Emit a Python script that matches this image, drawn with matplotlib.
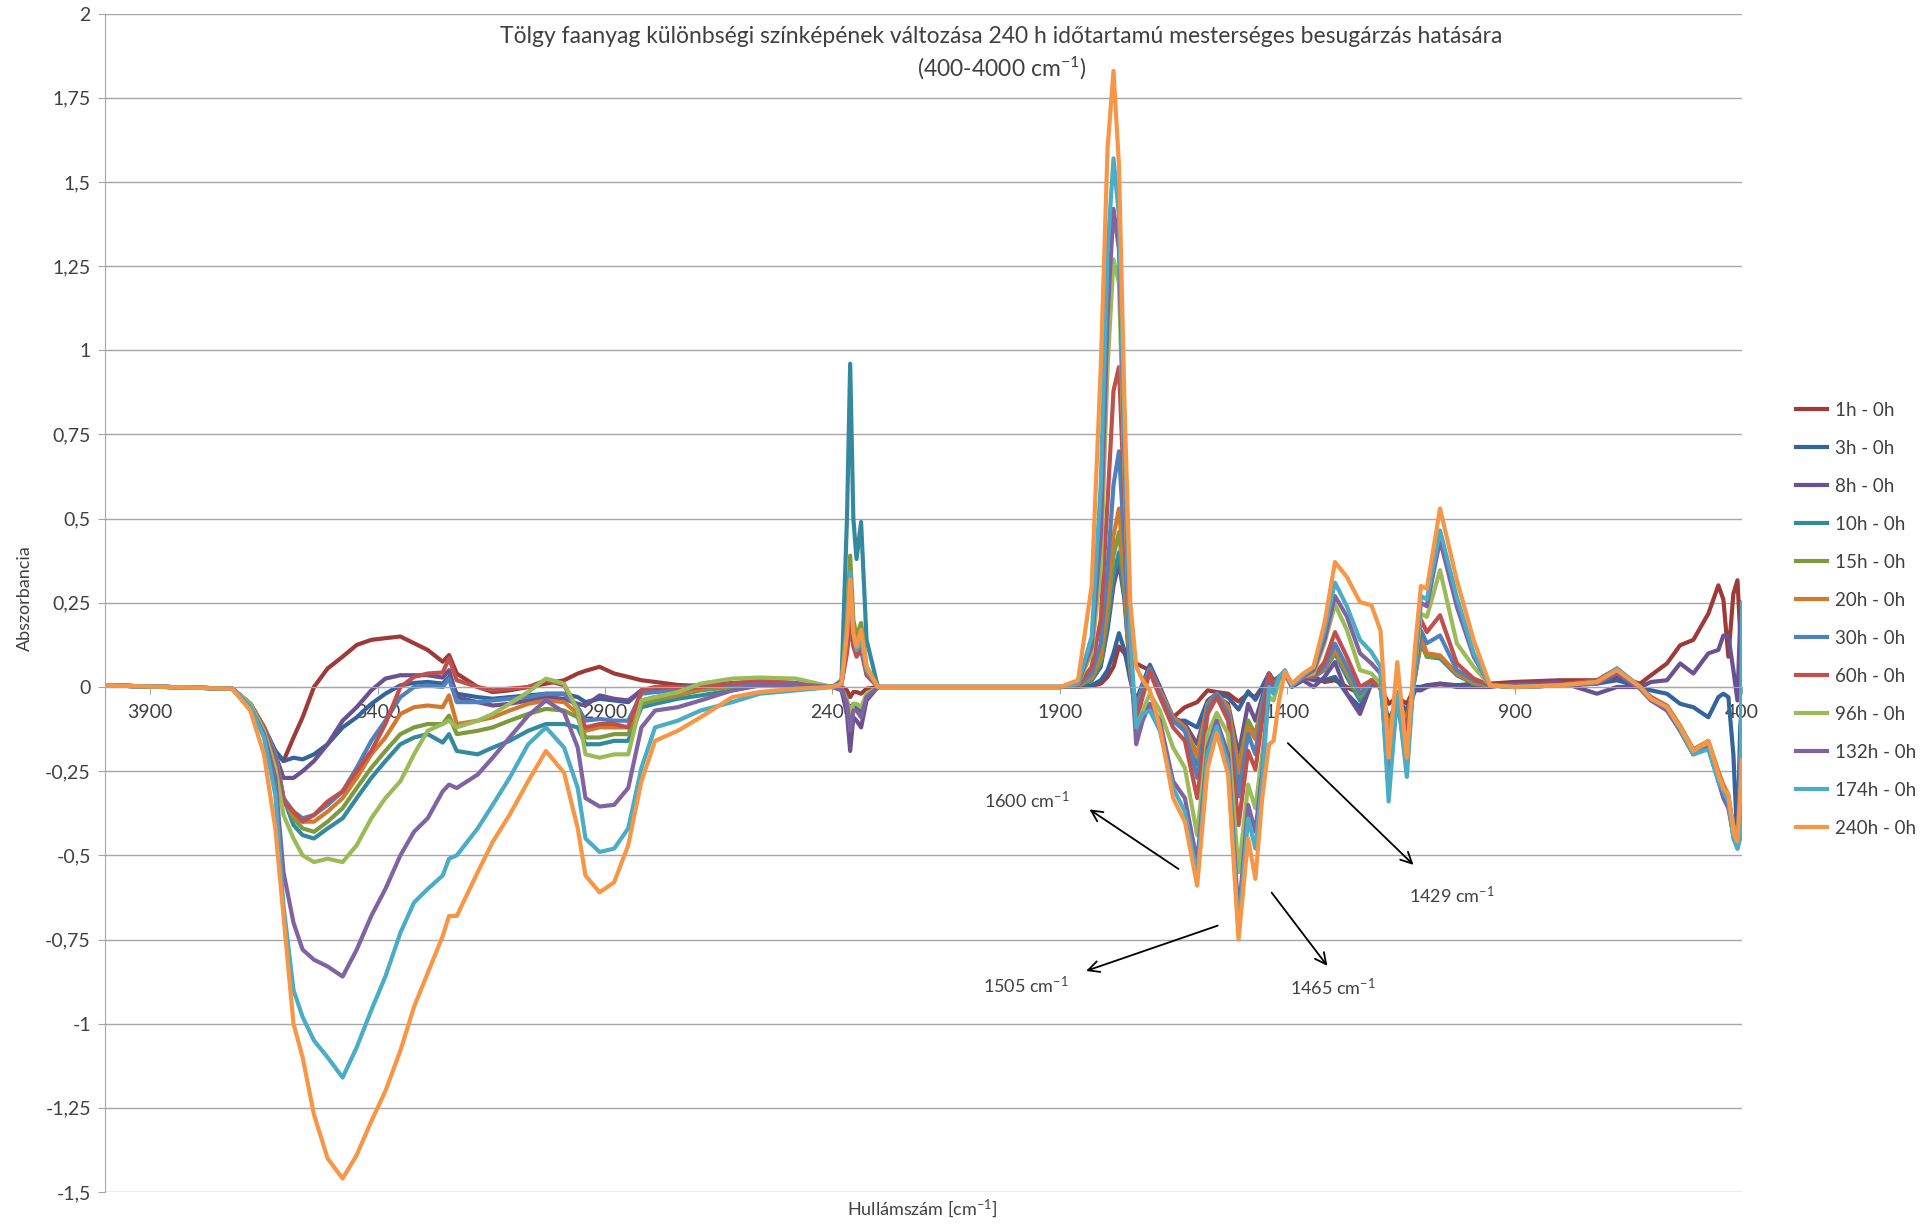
import numpy as np
import matplotlib
matplotlib.use("Agg")
import matplotlib.pyplot as plt
from matplotlib.ticker import FuncFormatter

plt.rcParams['font.family'] = ['Lato', 'DejaVu Sans']
plt.rcParams['mathtext.fontset'] = 'custom'
plt.rcParams['mathtext.rm'] = 'Lato'
plt.rcParams['mathtext.it'] = 'Lato:italic'
plt.rcParams['mathtext.bf'] = 'Lato:bold'

# wavenumber grid (cm-1)
WN_A = [4000, 3720, 3680, 3650, 3625, 3607, 3585, 3565, 3540, 3510,
        3477, 3446, 3414, 3383, 3350, 3320, 3290, 3257, 3243, 3226,
        3180, 3147, 3110, 3069, 3030, 2990, 2960, 2943, 2912, 2880,
        2849, 2820, 2790, 2740, 2690, 2620, 2560, 2480, 2400, 2380,
        2368, 2361, 2354, 2347, 2337, 2325, 2300]
WN_B = [1900, 1860, 1830, 1810, 1795, 1782, 1770, 1758, 1745, 1732,
        1718, 1702, 1680, 1651, 1625, 1598, 1575, 1555, 1530, 1507,
        1486, 1470, 1455, 1440, 1430, 1418, 1405, 1390, 1365, 1342,
        1318, 1295, 1269, 1240, 1215, 1195, 1177, 1158, 1137, 1119,
        1106, 1093, 1064, 1027, 990, 954]
WN_C = [900, 800, 719, 675, 624, 600, 565, 536, 507, 474,
        452, 441, 430, 419, 410, 404, 400]
WN = WN_A + WN_B + WN_C

H1 = [0.005, -0.005, -0.05, -0.12, -0.19, -0.22, -0.15, -0.09, 0.0, 0.055,
      0.09, 0.125, 0.14, 0.145, 0.15, 0.13, 0.11, 0.075, 0.095, 0.04,
      0.0, -0.015, -0.01, 0.0, 0.01, 0.02, 0.04, 0.048, 0.06, 0.04,
      0.03, 0.02, 0.015, 0.006, 0.003, 0.005, 0.01, 0.008, 0.002, 0.0,
      -0.01, -0.03, -0.015, -0.015, -0.02, -0.005, 0.0,
      0.0, 0.001, 0.003, 0.01, 0.03, 0.06, 0.12, 0.1, 0.075, 0.07,
      0.06, 0.05, -0.02, -0.09, -0.06, -0.045, -0.01, -0.015, -0.02, -0.043,
      -0.02, -0.03, 0.0, 0.04, 0.02, 0.03, 0.04, 0.01, 0.03, 0.03,
      0.015, 0.02, 0.0, -0.02, 0.01, 0.0, -0.05, -0.03, -0.05, 0.0,
      0.0, 0.005, 0.008, 0.005, 0.01, 0.01,
      0.015, 0.02, 0.02, 0.03, 0.01, 0.035, 0.07, 0.124, 0.14, 0.218,
      0.302, 0.26, 0.09, 0.277, 0.317, 0.16, 0.25]
H3 = [0.005, -0.005, -0.05, -0.12, -0.19, -0.22, -0.21, -0.215, -0.2, -0.17,
      -0.12, -0.09, -0.05, -0.02, 0.005, 0.012, 0.015, 0.01, 0.03, -0.02,
      -0.03, -0.035, -0.03, -0.025, -0.02, -0.02, -0.03, -0.045, -0.035, -0.04,
      -0.045, -0.01, -0.003, 0.0, 0.005, 0.01, 0.015, 0.01, 0.0, -0.005,
      -0.04, -0.1, -0.05, -0.06, -0.08, -0.03, 0.0,
      0.0, 0.002, 0.005, 0.02, 0.05, 0.1, 0.16, 0.11, 0.02, -0.04,
      0.01, 0.066, 0.0, -0.1, -0.1, -0.12, -0.04, -0.02, -0.03, -0.067,
      -0.013, -0.038, 0.0, 0.04, 0.01, 0.03, 0.04, 0.01, 0.03, 0.02,
      0.02, 0.03, -0.02, -0.06, 0.02, 0.0, -0.1, -0.04, -0.07, 0.0,
      0.0, 0.005, 0.01, 0.005, 0.005, 0.005,
      0.0, 0.005, 0.01, 0.02, 0.0, -0.01, -0.02, -0.05, -0.06, -0.09,
      -0.03, -0.02, -0.03, -0.2, -0.47, -0.12, -0.05]
H8 = [0.005, -0.005, -0.05, -0.12, -0.2, -0.27, -0.27, -0.25, -0.22, -0.17,
      -0.1, -0.06, -0.01, 0.025, 0.035, 0.035, 0.035, 0.028, 0.05, -0.03,
      -0.045, -0.055, -0.05, -0.04, -0.03, -0.035, -0.05, -0.055, -0.025, -0.035,
      -0.04, -0.01, -0.005, 0.0, 0.005, 0.012, 0.015, 0.01, 0.0, -0.01,
      -0.08, -0.19, -0.09, -0.1, -0.12, -0.04, 0.0,
      0.0, 0.003, 0.02, 0.06, 0.17, 0.3, 0.37, 0.26, 0.04, -0.1,
      -0.02, 0.06, 0.0, -0.09, -0.11, -0.17, -0.05, -0.03, -0.05, -0.2,
      -0.05, -0.1, -0.03, 0.04, 0.005, 0.03, 0.04, 0.0, 0.02, 0.0,
      0.03, 0.074, -0.02, -0.08, 0.01, 0.0, -0.12, -0.04, -0.08, -0.01,
      -0.01, 0.0, 0.01, 0.0, 0.0, 0.0,
      0.01, 0.015, -0.02, 0.0, 0.0, 0.015, 0.02, 0.07, 0.04, 0.1,
      0.11, 0.153, 0.15, 0.05, -0.04, 0.2, 0.0]
H10 = [0.005, -0.005, -0.05, -0.12, -0.2, -0.33, -0.41, -0.44, -0.45, -0.42,
       -0.39, -0.33, -0.27, -0.22, -0.17, -0.15, -0.14, -0.165, -0.14, -0.19,
       -0.2, -0.18, -0.16, -0.13, -0.11, -0.11, -0.12, -0.17, -0.17, -0.16,
       -0.16, -0.06, -0.05, -0.035, -0.025, -0.01, 0.005, 0.005, 0.0, 0.02,
       0.5, 0.96, 0.5, 0.38, 0.49, 0.14, 0.0,
       0.0, 0.003, 0.02, 0.07, 0.19, 0.33, 0.4, 0.27, 0.04, -0.08,
       0.0, 0.055, -0.02, -0.1, -0.13, -0.23, -0.05, -0.025, -0.07, -0.275,
       -0.1, -0.15, -0.05, 0.03, 0.005, 0.03, 0.04, 0.005, 0.03, 0.03,
       0.05, 0.1, 0.03, -0.04, 0.02, 0.0, -0.14, -0.04, -0.1, 0.03,
       0.13, 0.09, 0.085, 0.035, 0.01, 0.005,
       0.0, 0.005, 0.015, 0.045, 0.0, -0.035, -0.06, -0.12, -0.19, -0.17,
       -0.26, -0.3, -0.33, -0.42, -0.46, -0.3, -0.2]
H15 = [0.005, -0.005, -0.05, -0.12, -0.2, -0.33, -0.39, -0.42, -0.43, -0.4,
       -0.36, -0.3, -0.24, -0.19, -0.14, -0.12, -0.11, -0.11, -0.085, -0.14,
       -0.13, -0.12, -0.1, -0.08, -0.065, -0.07, -0.09, -0.15, -0.15, -0.14,
       -0.14, -0.05, -0.04, -0.025, -0.01, 0.0, 0.015, 0.01, 0.0, 0.01,
       0.2, 0.39, 0.2, 0.15, 0.19, 0.06, 0.0,
       0.0, 0.003, 0.025, 0.08, 0.22, 0.39, 0.46, 0.3, 0.05, -0.07,
       0.0, 0.05, -0.02, -0.09, -0.12, -0.2, -0.05, -0.02, -0.06, -0.235,
       -0.1, -0.14, -0.05, 0.03, 0.005, 0.03, 0.04, 0.005, 0.03, 0.03,
       0.055, 0.105, 0.04, -0.03, 0.02, 0.0, -0.12, -0.04, -0.1, 0.03,
       0.14, 0.09, 0.09, 0.04, 0.01, 0.005,
       0.0, 0.005, 0.012, 0.048, -0.005, -0.04, -0.065, -0.13, -0.2, -0.165,
       -0.27, -0.31, -0.35, -0.44, -0.47, -0.32, -0.25]
H20 = [0.005, -0.005, -0.05, -0.12, -0.2, -0.33, -0.38, -0.4, -0.4, -0.37,
       -0.33, -0.27, -0.2, -0.15, -0.08, -0.06, -0.055, -0.06, -0.025, -0.11,
       -0.1, -0.09, -0.07, -0.05, -0.04, -0.045, -0.08, -0.13, -0.12, -0.12,
       -0.12, -0.04, -0.03, -0.02, -0.005, 0.005, 0.015, 0.01, 0.0, 0.01,
       0.16, 0.33, 0.17, 0.13, 0.16, 0.05, 0.0,
       0.0, 0.004, 0.03, 0.1, 0.26, 0.45, 0.53, 0.33, 0.05, -0.07,
       0.0, 0.05, -0.01, -0.09, -0.12, -0.21, -0.05, -0.02, -0.06, -0.255,
       -0.12, -0.155, -0.05, 0.03, 0.005, 0.03, 0.04, 0.005, 0.03, 0.03,
       0.055, 0.114, 0.05, -0.02, 0.02, 0.0, -0.12, -0.04, -0.1, 0.03,
       0.153, 0.1, 0.094, 0.04, 0.015, 0.005,
       0.0, 0.005, 0.015, 0.05, 0.0, -0.03, -0.055, -0.115, -0.185, -0.16,
       -0.25, -0.29, -0.32, -0.43, -0.45, -0.31, -0.22]
H30 = [0.005, -0.005, -0.05, -0.12, -0.2, -0.33, -0.37, -0.39, -0.38, -0.35,
       -0.31, -0.24, -0.16, -0.1, -0.03, 0.0, 0.005, 0.0, 0.025, -0.045,
       -0.045, -0.04, -0.035, -0.03, -0.02, -0.02, -0.06, -0.1, -0.095, -0.1,
       -0.1, -0.02, -0.015, -0.01, 0.0, 0.005, 0.015, 0.01, 0.0, 0.01,
       0.12, 0.24, 0.13, 0.1, 0.13, 0.04, 0.0,
       0.0, 0.005, 0.04, 0.13, 0.35, 0.6, 0.7, 0.42, 0.06, -0.08,
       0.0, 0.055, -0.02, -0.1, -0.13, -0.27, -0.06, -0.02, -0.08, -0.325,
       -0.14, -0.2, -0.06, 0.04, 0.005, 0.03, 0.04, 0.005, 0.03, 0.03,
       0.06, 0.129, 0.06, -0.02, 0.02, 0.0, -0.15, -0.04, -0.13, 0.04,
       0.168, 0.13, 0.153, 0.05, 0.02, 0.005,
       0.0, 0.005, 0.015, 0.05, 0.0, -0.035, -0.06, -0.125, -0.195, -0.17,
       -0.265, -0.3, -0.34, -0.44, -0.47, -0.3, -0.2]
H60 = [0.005, -0.005, -0.05, -0.12, -0.22, -0.34, -0.37, -0.4, -0.38, -0.34,
       -0.31, -0.25, -0.19, -0.11, 0.0, 0.03, 0.04, 0.043, 0.085, 0.02,
       0.0, -0.01, -0.005, 0.0, 0.02, 0.005, -0.07, -0.12, -0.11, -0.11,
       -0.12, -0.01, 0.0, 0.0, 0.0, 0.01, 0.02, 0.012, 0.0, 0.01,
       0.1, 0.19, 0.12, 0.09, 0.11, 0.035, 0.0,
       0.0, 0.005, 0.06, 0.2, 0.55, 0.88, 0.95, 0.55, 0.08, -0.1,
       -0.03, 0.045, -0.03, -0.12, -0.16, -0.33, -0.08, -0.03, -0.1, -0.41,
       -0.19, -0.245, -0.1, 0.04, 0.0, 0.03, 0.04, 0.005, 0.03, 0.03,
       0.075, 0.163, 0.09, 0.0, 0.02, 0.0, -0.2, -0.04, -0.13, 0.05,
       0.2, 0.163, 0.213, 0.07, 0.025, 0.005,
       0.005, 0.008, 0.02, 0.055, 0.0, -0.03, -0.06, -0.12, -0.19, -0.17,
       -0.26, -0.3, -0.33, -0.42, -0.46, -0.34, -0.3]
H96 = [0.005, -0.005, -0.05, -0.13, -0.24, -0.38, -0.45, -0.5, -0.52, -0.51,
       -0.52, -0.47, -0.39, -0.33, -0.28, -0.2, -0.13, -0.11, -0.1, -0.12,
       -0.1, -0.08, -0.05, -0.015, 0.025, 0.01, -0.07, -0.2, -0.21, -0.2,
       -0.2, -0.04, -0.03, -0.015, 0.01, 0.025, 0.028, 0.025, 0.0, -0.005,
       -0.04, -0.09, -0.05, -0.05, -0.06, -0.02, 0.0,
       0.0, 0.01, 0.1, 0.35, 0.95, 1.27, 1.2, 0.65, 0.08, -0.13,
       -0.07, -0.02, -0.07, -0.18, -0.24, -0.44, -0.14, -0.077, -0.14, -0.55,
       -0.29, -0.36, -0.2, -0.03, -0.04, 0.02, 0.04, 0.005, 0.03, 0.04,
       0.13, 0.245, 0.17, 0.05, 0.04, 0.01, -0.25, -0.04, -0.2, 0.06,
       0.218, 0.208, 0.347, 0.129, 0.06, 0.005,
       0.0, 0.005, 0.015, 0.05, 0.0, -0.035, -0.062, -0.12, -0.19, -0.175,
       -0.27, -0.31, -0.33, -0.41, -0.45, -0.33, -0.26]
H132 = [0.005, -0.005, -0.06, -0.14, -0.27, -0.55, -0.7, -0.78, -0.81, -0.83,
        -0.86, -0.78, -0.68, -0.6, -0.5, -0.43, -0.39, -0.31, -0.29, -0.3,
        -0.26, -0.21, -0.15, -0.085, -0.04, -0.075, -0.18, -0.33, -0.355, -0.35,
        -0.3, -0.12, -0.07, -0.06, -0.04, -0.01, 0.005, 0.008, 0.0, -0.005,
        -0.05, -0.13, -0.07, -0.07, -0.09, -0.03, 0.0,
        0.0, 0.01, 0.12, 0.45, 1.1, 1.42, 1.3, 0.7, 0.1, -0.17,
        -0.1, -0.05, -0.1, -0.28, -0.33, -0.52, -0.18, -0.1, -0.2, -0.68,
        -0.35, -0.43, -0.25, 0.01, -0.01, 0.03, 0.04, 0.005, 0.03, 0.05,
        0.14, 0.27, 0.21, 0.1, 0.07, 0.04, -0.3, -0.03, -0.24, 0.08,
        0.25, 0.24, 0.436, 0.238, 0.09, 0.005,
        0.0, 0.005, 0.01, 0.04, -0.005, -0.04, -0.07, -0.13, -0.2, -0.18,
        -0.28, -0.33, -0.36, -0.44, -0.48, -0.2, -0.25]
H174 = [0.005, -0.005, -0.06, -0.15, -0.32, -0.65, -0.9, -0.98, -1.05, -1.1,
        -1.16, -1.07, -0.96, -0.86, -0.73, -0.64, -0.6, -0.56, -0.51, -0.5,
        -0.42, -0.35, -0.27, -0.17, -0.12, -0.18, -0.3, -0.45, -0.49, -0.48,
        -0.42, -0.24, -0.12, -0.1, -0.07, -0.045, -0.02, -0.01, 0.0, 0.01,
        0.17, 0.34, 0.16, 0.11, 0.14, 0.05, 0.0,
        0.0, 0.01, 0.15, 0.6, 1.3, 1.57, 1.4, 0.75, 0.15, -0.12,
        -0.08, -0.07, -0.13, -0.3, -0.37, -0.56, -0.2, -0.117, -0.23, -0.72,
        -0.39, -0.48, -0.28, 0.0, -0.02, 0.03, 0.05, 0.005, 0.035, 0.06,
        0.17, 0.31, 0.24, 0.14, 0.104, 0.06, -0.34, -0.015, -0.267, 0.08,
        0.27, 0.26, 0.465, 0.267, 0.1, 0.005,
        0.0, 0.005, 0.015, 0.055, 0.0, -0.035, -0.06, -0.125, -0.2, -0.185,
        -0.28, -0.31, -0.34, -0.45, -0.48, -0.45, 0.25]
H240 = [0.005, -0.005, -0.07, -0.2, -0.42, -0.68, -1.0, -1.1, -1.27, -1.4,
        -1.46, -1.39, -1.29, -1.2, -1.08, -0.95, -0.85, -0.74, -0.68, -0.68,
        -0.55, -0.46, -0.38, -0.28, -0.19, -0.255, -0.42, -0.56, -0.61, -0.58,
        -0.47, -0.28, -0.16, -0.13, -0.09, -0.03, -0.015, -0.005, 0.0, 0.01,
        0.16, 0.32, 0.16, 0.12, 0.17, 0.06, 0.0,
        0.0, 0.02, 0.3, 0.95, 1.6, 1.83, 1.55, 0.85, 0.25, 0.06,
        0.02, -0.01, -0.12, -0.33, -0.4, -0.59, -0.24, -0.137, -0.26, -0.75,
        -0.45, -0.57, -0.33, -0.17, -0.16, -0.04, 0.045, 0.01, 0.04, 0.06,
        0.19, 0.371, 0.327, 0.252, 0.243, 0.168, -0.21, 0.074, -0.21, 0.12,
        0.3, 0.292, 0.53, 0.317, 0.139, 0.005,
        0.0, 0.005, 0.015, 0.05, 0.0, -0.035, -0.06, -0.12, -0.19, -0.16,
        -0.26, -0.3, -0.32, -0.43, -0.46, -0.32, -0.22]

SERIES = [H1, H3, H8, H10, H15, H20, H30, H60, H96, H132, H174, H240]
LABELS = ["1h - 0h", "3h - 0h", "8h - 0h", "10h - 0h", "15h - 0h", "20h - 0h",
          "30h - 0h", "60h - 0h", "96h - 0h", "132h - 0h", "174h - 0h", "240h - 0h"]
COLORS = ["#9E3B38", "#35649C", "#6B5190", "#35899F", "#7C9A3E", "#D3792E",
          "#4F81BD", "#C0504D", "#9BBB59", "#8064A2", "#4BACC6", "#F79646"]

TICKS_X = [3900, 3400, 2900, 2400, 1900, 1400, 900, 400]

# annotation arrows: (label, text pos, arrow tail, arrow head) in data coords
NOTES = [
    ("1600", (1972, -0.337), (1634, -0.545), (1840, -0.359)),
    ("1505", (1975, -0.886), (1547, -0.706), (1848, -0.846)),
    ("1465", (1300, -0.893), (1438, -0.604), (1308, -0.835)),
    ("1429", (1037, -0.619), (1403, -0.161), (1118, -0.534)),
]

for s in SERIES:
    assert len(s) == len(WN), len(s)

GRID = "#a6a6a6"
TXT = "#404040"

fig = plt.figure(figsize=(19.33, 12.25), dpi=100)
ax = fig.add_axes([0.0542, 0.0269, 0.8470, 0.9620])

for vals, lab, col in zip(SERIES, LABELS, COLORS):
    ax.plot(WN, vals, color=col, lw=3.0, label=lab, solid_joinstyle="round")

ax.set_xlim(4000, 400)
ax.set_ylim(-1.5, 2)
ax.set_yticks(np.arange(-1.5, 2.01, 0.25))
ax.yaxis.set_major_formatter(FuncFormatter(lambda v, p: f"{v:g}".replace(".", ",")))
ax.set_xticks(TICKS_X)
ax.yaxis.grid(True, color=GRID, lw=1.0)
ax.set_axisbelow(True)
for side in ("top", "right"):
    ax.spines[side].set_visible(False)
ax.spines["left"].set_color(GRID)
ax.spines["bottom"].set_position(("data", 0))
ax.spines["bottom"].set_color(GRID)
ax.tick_params(axis="x", direction="out", length=5, color=GRID, labelsize=14,
               labelcolor=TXT, pad=7)
ax.tick_params(axis="y", direction="out", length=5, color=GRID, labelsize=14,
               labelcolor=TXT, pad=5)

for lab, tpos, tail, head in NOTES:
    ax.annotate("", xy=head, xytext=tail,
                arrowprops=dict(arrowstyle="->", color="black", lw=1.3, mutation_scale=20))
    ax.text(tpos[0], tpos[1], lab + r" cm$^{-1}$", ha="center", va="center",
            fontsize=13, color=TXT)

fig.text(0.518, 0.970,
         "Tölgy faanyag különbségi színképének változása 240 h időtartamú mesterséges besugárzás hatására",
         ha="center", va="center", fontsize=16.5, color=TXT)
fig.text(0.518, 0.9445, r"(400-4000 cm$^{-1}$)", ha="center", va="center",
         fontsize=16.5, color=TXT)
fig.text(0.0129, 0.512, "Abszorbancia", rotation=90, ha="center", va="center",
         fontsize=13, color=TXT)
fig.text(0.477, 0.013, r"Hullámszám [cm$^{-1}$]", ha="center", va="center",
         fontsize=13, color=TXT)

ax.legend(loc="upper left", bbox_to_anchor=(0.925, 0.678), bbox_transform=fig.transFigure,
          frameon=False, fontsize=13.5, labelspacing=1.12, handlelength=1.7,
          handletextpad=0.4, borderaxespad=0)
for t in ax.get_legend().get_texts():
    t.set_color(TXT)

fig.savefig("out.png", dpi=100)
